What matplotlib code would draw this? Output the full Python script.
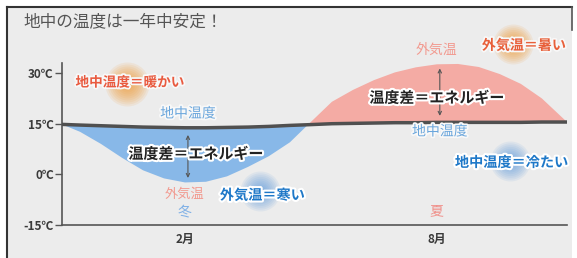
import numpy as np
import matplotlib
matplotlib.use("Agg")
import matplotlib.pyplot as plt
import matplotlib.patheffects as pe
from matplotlib.lines import Line2D

plt.rcParams['font.family'] = ['Noto Sans CJK JP', 'DejaVu Sans']

# months (2 = Feb, 8 = Aug)
months = [-0.93, -0.5, 0, 0.5, 1, 1.5, 2, 2.5, 3, 3.5, 4, 4.5, 4.93,
          5.5, 6, 6.5, 7, 7.5, 8, 8.5, 9, 9.5, 10, 10.5, 11.1]
outside_temp = [14.8, 12.6, 9.0, 4.9, 1.2, -1.2, -2.4, -2.2, -0.6, 2.2, 5.4, 9.5, 14.7,
                21.5, 25.0, 27.9, 30.2, 31.7, 32.6, 32.7, 31.8, 29.7, 26.8, 22.5, 15.5]
ground_temp = [14.8, 14.6, 14.4, 14.2, 14.0, 13.9, 13.8, 13.8, 13.9, 14.0, 14.2, 14.5, 14.7,
               15.0, 15.1, 15.2, 15.3, 15.3, 15.4, 15.4, 15.4, 15.4, 15.4, 15.5, 15.5]

y_ticks = [30, 15, 0, -15]
y_labels = ['30℃', '15℃', '0℃', '-15℃']
x_ticks = [2, 8]
x_labels = ['2月', '8月']

bg = '#ececec'
fig = plt.figure(figsize=(5.77, 2.58), dpi=100, facecolor='white')
fig.patches.append(plt.Rectangle((7 / 577, 0), 565 / 577, 1 - 7 / 258, transform=fig.transFigure,
                                 facecolor=bg, edgecolor='none', zorder=-5))
# frame lines (top, left, short right)
fig.add_artist(Line2D([7 / 577, 572 / 577], [1 - 7 / 258] * 2, color='#333333', lw=1.5))
fig.add_artist(Line2D([7 / 577] * 2, [0, 1 - 7 / 258], color='#333333', lw=1.5))
fig.add_artist(Line2D([572 / 577] * 2, [1 - 7 / 258, 1 - 30 / 258], color='#555555', lw=1.2))

ax = fig.add_axes([62 / 577, 0.128, 505 / 577, 0.628])
ax.set_facecolor('none')

x = np.array(months)
out = np.array(outside_temp)
gnd = np.array(ground_temp)

ax.fill_between(x, out, gnd, where=out <= gnd + 0.01, color='#88b8e8', lw=0, interpolate=True)
ax.fill_between(x, out, gnd, where=out >= gnd - 0.01, color='#f4aba4', lw=0, interpolate=True)
ax.plot(x, gnd, color='#505050', lw=2.5, solid_capstyle='butt', zorder=3)


def glow(cx, cy, color, r=22, a=0.1):
    for k in range(10):
        rr = r * (1 - k / 11)
        ax.scatter([cx], [cy], s=(2 * rr * 0.72) ** 2, color=color, alpha=a,
                   lw=0, clip_on=False, zorder=1)


glow(0.62, 26.9, '#f59a30', 22, 0.11)
glow(9.81, 38.5, '#f59a30', 20, 0.11)
glow(3.79, -4.9, '#4f93dc', 20, 0.09)
glow(9.74, 4.0, '#4f93dc', 20, 0.09)

white = [pe.withStroke(linewidth=3, foreground='white')]
soft = [pe.withStroke(linewidth=2.5, foreground='#f8f8f8')]

# arrows for the temperature difference
ax.annotate('', xy=(2.07, -1.9), xytext=(2.07, 12.5),
            arrowprops=dict(arrowstyle='<->', color='#555555', lw=0.8, mutation_scale=6), zorder=4)
ax.annotate('', xy=(8.07, 32.2), xytext=(8.07, 16.5),
            arrowprops=dict(arrowstyle='<->', color='#555555', lw=0.8, mutation_scale=6), zorder=4)

ax.text(2.26, 6.1, '温度差＝エネルギー', ha='center', va='center', fontsize=10.8,
        fontweight='bold', color='#222222', path_effects=white, zorder=5)
ax.text(8.0, 22.7, '温度差＝エネルギー', ha='center', va='center', fontsize=10.8,
        fontweight='bold', color='#222222', path_effects=white, zorder=5)

ax.text(0.69, 27.2, '地中温度＝暖かい', ha='center', va='center', fontsize=9.8,
        fontweight='bold', color='#e95a3f', path_effects=soft, zorder=5)
ax.text(9.07, 38.1, '外気温＝暑い', ha='left', va='center', fontsize=10.1,
        fontweight='bold', color='#e8603a', path_effects=soft, zorder=5, clip_on=False)
ax.text(2.83, -6.3, '外気温＝寒い', ha='left', va='center', fontsize=10.2,
        fontweight='bold', color='#1e78c8', path_effects=white, zorder=5)
ax.text(8.43, 3.4, '地中温度＝冷たい', ha='left', va='center', fontsize=10.2,
        fontweight='bold', color='#1e78c8', path_effects=white, zorder=5)

ax.text(2.07, 18.0, '地中温度', ha='center', va='center', fontsize=10, color='#6aa6dc',
        path_effects=soft, zorder=5)
ax.text(8.07, 12.7, '地中温度', ha='center', va='center', fontsize=10, color='#6aa6dc',
        path_effects=soft, zorder=5)
ax.text(2.0, -5.8, '外気温', ha='center', va='center', fontsize=9.5, color='#f29a90', zorder=5)
ax.text(8.0, 37.0, '外気温', ha='center', va='center', fontsize=10, color='#f29a90', zorder=5)
ax.text(2.0, -11.4, '冬', ha='center', va='center', fontsize=10, color='#7fb0e6', zorder=5)
ax.text(8.0, -10.8, '夏', ha='center', va='center', fontsize=10, color='#f0908a', zorder=5)

fig.text(23 / 577, 1 - 22 / 258, '地中の温度は一年中安定！', ha='left', va='center',
         fontsize=12, color='#555555')

ax.set_xlim(-0.93, 11.1)
ax.set_ylim(-15, 33)
ax.set_yticks(y_ticks)
ax.set_yticklabels(y_labels, fontweight='bold')
ax.set_xticks(x_ticks)
ax.set_xticklabels(x_labels, fontweight='bold')
ax.tick_params(axis='y', length=5, width=1, color='#555555', labelsize=8.5, labelcolor='#3a3a3a', pad=1)
ax.tick_params(axis='x', length=0, labelsize=8.5, labelcolor='#3a3a3a', pad=6)
for s in ['top', 'right']:
    ax.spines[s].set_visible(False)
for s in ['left', 'bottom']:
    ax.spines[s].set_color('#555555')
    ax.spines[s].set_linewidth(1.2)

fig.savefig('out.png', dpi=100, facecolor='white')
